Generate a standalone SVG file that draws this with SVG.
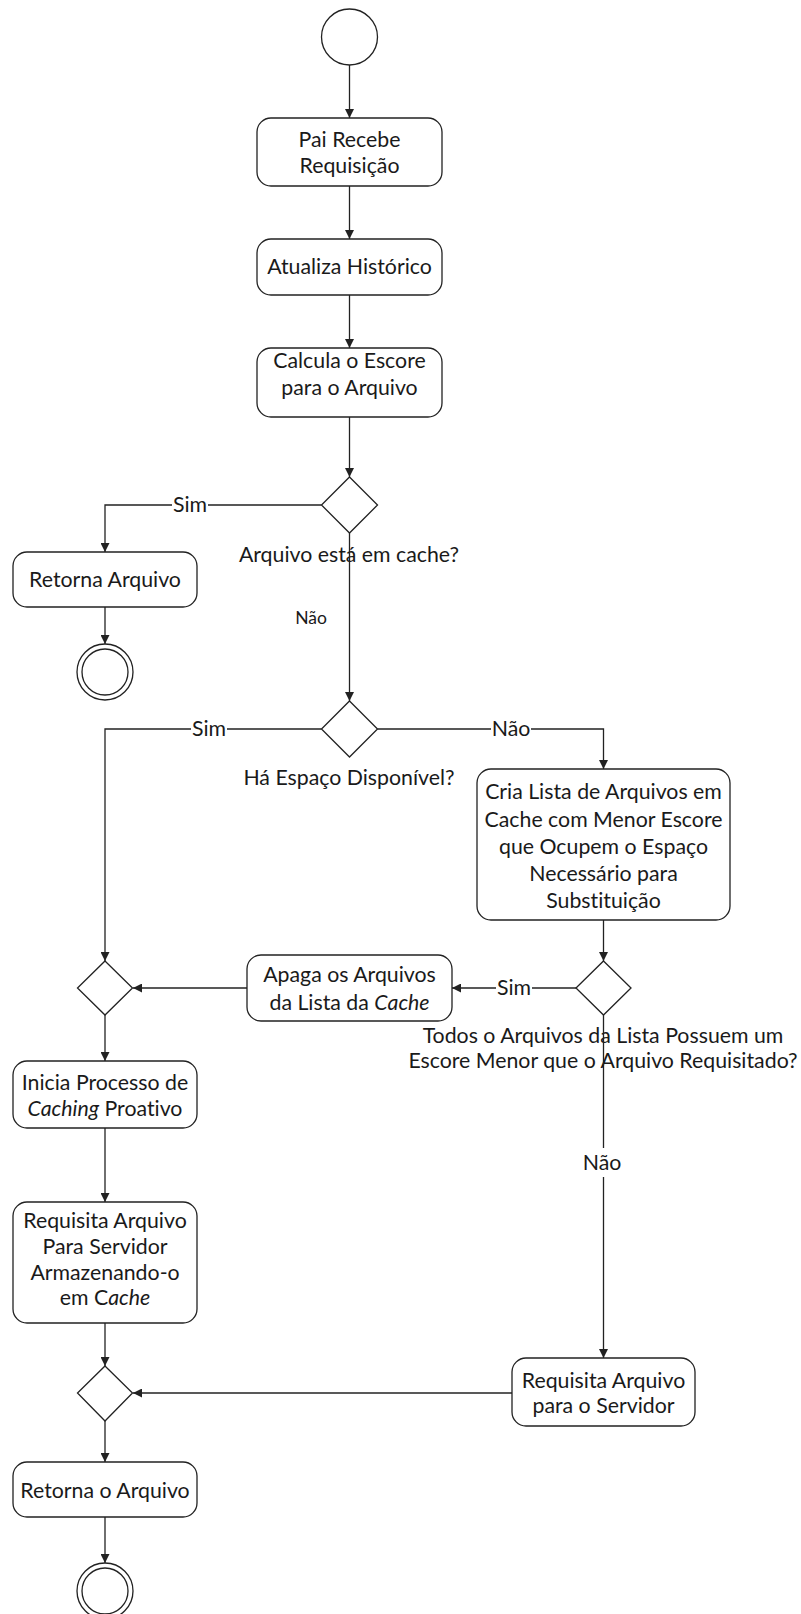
<svg xmlns="http://www.w3.org/2000/svg" width="801" height="1614" viewBox="0 0 801 1614">
  <defs>
    <marker id="arrow" viewBox="0 0 10 10" refX="10" refY="5" markerWidth="9" markerHeight="9" markerUnits="userSpaceOnUse" orient="auto">
      <path d="M0,0 L10,5 L0,10 z" fill="#222"/>
    </marker>
    <style>
      .box { fill: #fff; stroke: #222; stroke-width: 1.3; }
      .dec { fill: #fff; stroke: #222; stroke-width: 1.3; }
      .edge { fill: none; stroke: #222; stroke-width: 1.3; }
      .arr { marker-end: url(#arrow); }
      text { font-family: Lato, "Liberation Sans", sans-serif; fill: #1a1a1a; font-size: 21.3px; text-anchor: middle; font-variant-ligatures: none; }
      .small { font-size: 17.5px; }
      .bg { fill: #fff; stroke: none; }
      .it { font-style: italic; }
    </style>
  </defs>
  <rect width="801" height="1614" fill="#fff"/>

  <!-- free-standing guard labels (connectors run across them) -->
  <g id="guard-labels">
    <text x="349" y="562">Arquivo está em cache?</text>
    <text x="349" y="785">Há Espaço Disponível?</text>
    <text x="603" y="1043">Todos o Arquivos da Lista Possuem um</text>
    <text x="603" y="1068">Escore Menor que o Arquivo Requisitado?</text>
  </g>

  <g id="connectors">
    <line class="edge arr" x1="349.5" y1="65" x2="349.5" y2="118"/>
    <line class="edge arr" x1="349.5" y1="186" x2="349.5" y2="239"/>
    <line class="edge arr" x1="349.5" y1="295" x2="349.5" y2="348"/>
    <line class="edge arr" x1="349.5" y1="417" x2="349.5" y2="477"/>
    <polyline class="edge arr" points="321.5,505 105,505 105,552"/>
    <line class="edge arr" x1="105" y1="607" x2="105" y2="644"/>
    <line class="edge arr" x1="349.5" y1="533" x2="349.5" y2="701"/>
    <polyline class="edge arr" points="321.5,729 105,729 105,961"/>
    <polyline class="edge arr" points="377.5,729 603.5,729 603.5,769"/>
    <line class="edge arr" x1="603.5" y1="920" x2="603.5" y2="961"/>
    <line class="edge arr" x1="576" y1="988" x2="452" y2="988"/>
    <line class="edge arr" x1="247" y1="988" x2="133" y2="988"/>
    <line class="edge arr" x1="105" y1="1015" x2="105" y2="1061"/>
    <line class="edge arr" x1="105" y1="1128" x2="105" y2="1202"/>
    <line class="edge arr" x1="105" y1="1323" x2="105" y2="1366"/>
    <line class="edge arr" x1="603.5" y1="1015" x2="603.5" y2="1358"/>
    <line class="edge arr" x1="512" y1="1393" x2="133" y2="1393"/>
    <line class="edge arr" x1="105" y1="1421" x2="105" y2="1462"/>
    <line class="edge arr" x1="105" y1="1517" x2="105" y2="1563"/>

    <!-- connector labels -->
    <rect class="bg" x="172" y="495" width="36" height="20"/>
    <text x="190" y="512">Sim</text>
    <text class="small" x="311" y="624">Não</text>
    <rect class="bg" x="191" y="719" width="36" height="20"/>
    <text x="209" y="736">Sim</text>
    <rect class="bg" x="491" y="719" width="40" height="20"/>
    <text x="511" y="736">Não</text>
    <rect class="bg" x="496" y="978" width="36" height="20"/>
    <text x="514" y="995">Sim</text>
    <rect class="bg" x="582" y="1148" width="40" height="29"/>
    <text x="602" y="1170">Não</text>
  </g>

  <g id="start">
    <circle class="box" cx="349.5" cy="37" r="28"/>
  </g>

  <g id="recebe">
    <rect class="box" x="257" y="118" width="185" height="68" rx="14"/>
    <text x="349.5" y="147">Pai Recebe</text>
    <text x="349.5" y="173">Requisição</text>
  </g>

  <g id="historico">
    <rect class="box" x="257" y="239" width="185" height="56" rx="14"/>
    <text x="349.5" y="274">Atualiza Histórico</text>
  </g>

  <g id="escore">
    <rect class="box" x="257" y="348" width="185" height="69" rx="14"/>
    <text x="349.5" y="368">Calcula o Escore</text>
    <text x="349.5" y="395">para o Arquivo</text>
  </g>

  <g id="em-cache">
    <polygon class="dec" points="349.5,477 377.5,505 349.5,533 321.5,505"/>
  </g>

  <g id="retorna-cache">
    <rect class="box" x="13" y="552" width="184" height="55" rx="14"/>
    <text x="105" y="587">Retorna Arquivo</text>
  </g>

  <g id="fim-cache">
    <circle class="box" cx="105" cy="672" r="28"/>
    <circle class="box" cx="105" cy="672" r="23"/>
  </g>

  <g id="espaco">
    <polygon class="dec" points="349.5,701 377.5,729 349.5,757 321.5,729"/>
  </g>

  <g id="cria-lista">
    <rect class="box" x="477" y="769" width="253" height="151" rx="14"/>
    <text x="603.5" y="799">Cria Lista de Arquivos em</text>
    <text x="603.5" y="826.5">Cache com Menor Escore</text>
    <text x="603.5" y="854">que Ocupem o Espaço</text>
    <text x="603.5" y="881">Necessário para</text>
    <text x="603.5" y="908">Substituição</text>
  </g>

  <g id="todos-menor">
    <polygon class="dec" points="603.5,961 631,988 603.5,1015 576,988"/>
  </g>

  <g id="apaga">
    <rect class="box" x="247" y="955" width="205" height="66" rx="14"/>
    <text x="349.5" y="982">Apaga os Arquivos</text>
    <text x="349.5" y="1010">da Lista da <tspan class="it">Cache</tspan></text>
  </g>

  <g id="merge-1">
    <polygon class="dec" points="105,961 132.5,988 105,1015 77.5,988"/>
  </g>

  <g id="inicia">
    <rect class="box" x="13" y="1061" width="184" height="67" rx="14"/>
    <text x="105" y="1090">Inicia Processo de</text>
    <text x="105" y="1116"><tspan class="it">Caching</tspan> Proativo</text>
  </g>

  <g id="requisita-armazena">
    <rect class="box" x="13" y="1202" width="184" height="121" rx="14"/>
    <text x="105" y="1228">Requisita Arquivo</text>
    <text x="105" y="1254">Para Servidor</text>
    <text x="105" y="1280">Armazenando-o</text>
    <text x="105" y="1305">em C<tspan class="it">ache</tspan></text>
  </g>

  <g id="requisita-servidor">
    <rect class="box" x="512" y="1358" width="183" height="68" rx="14"/>
    <text x="603.5" y="1388">Requisita Arquivo</text>
    <text x="603.5" y="1413">para o Servidor</text>
  </g>

  <g id="merge-2">
    <polygon class="dec" points="105,1366 132.5,1393 105,1421 77.5,1393"/>
  </g>

  <g id="retorna">
    <rect class="box" x="13" y="1462" width="184" height="55" rx="14"/>
    <text x="105" y="1498">Retorna o Arquivo</text>
  </g>

  <g id="fim">
    <circle class="box" cx="105" cy="1591" r="28"/>
    <circle class="box" cx="105" cy="1591" r="23"/>
  </g>
</svg>
